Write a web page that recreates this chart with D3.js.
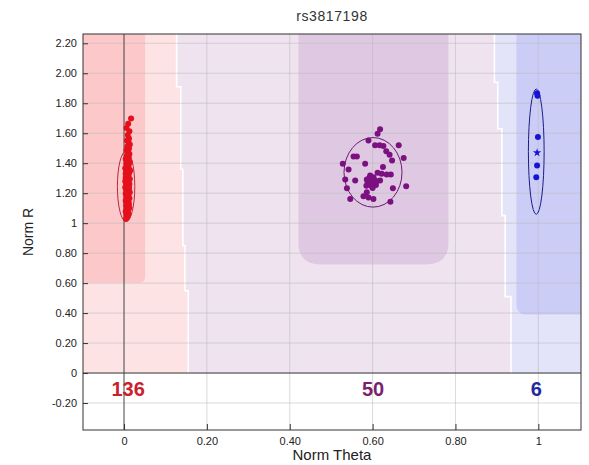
<!DOCTYPE html>
<html>
<head>
<meta charset="utf-8">
<title>rs3817198</title>
<script src="https://d3js.org/d3.v7.min.js"></script>
<style>
  body { margin: 0; background: #fff; }
  svg { display: block; font-family: "Liberation Sans", Arial, sans-serif; }
</style>
</head>
<body>
<script>
// samples as [Norm Theta, Norm R]
var redPts = [[0.017,1.698],[0.010,1.664],[0.006,1.635],[0.013,1.613],[0.009,1.588],[0.012,1.565],[0.007,1.552],[0.011,1.538],
  [0.014,1.524],[0.008,1.512],[0.012,1.498],[0.006,1.486],[0.010,1.474],[0.013,1.461],[0.007,1.450],[0.011,1.440],[0.004,1.428],
  [0.009,1.418],[0.014,1.407],[0.006,1.396],[0.011,1.386],[0.008,1.377],[0.003,1.366],[0.013,1.358],[0.009,1.348],[0.005,1.339],
  [0.012,1.330],[0.007,1.321],[0.010,1.312],[0.004,1.303],[0.014,1.295],[0.008,1.287],[0.011,1.278],[0.005,1.270],[0.013,1.262],
  [0.007,1.254],[0.009,1.246],[0.003,1.238],[0.012,1.230],[0.006,1.222],[0.010,1.214],[0.014,1.206],[0.004,1.198],[0.008,1.190],
  [0.011,1.182],[0.006,1.174],[0.013,1.166],[0.009,1.158],[0.004,1.150],[0.011,1.142],[0.007,1.134],[0.012,1.126],[0.005,1.118],
  [0.009,1.110],[0.013,1.102],[0.006,1.094],[0.010,1.086],[0.004,1.078],[0.008,1.070],[0.011,1.062],[0.006,1.054],[0.009,1.046],
  [0.007,1.038],[0.005,1.030],[0.008,1.300],[0.006,1.260],[0.012,1.240],[0.004,1.330],[0.010,1.190],[0.007,1.420],[0.015,1.350],
  [0.003,1.280]];
var purplePts = [[0.618,1.626],[0.612,1.597],[0.590,1.552],[0.606,1.519],[0.617,1.519],[0.626,1.515],[0.663,1.519],[0.633,1.479],
  [0.641,1.456],[0.675,1.434],[0.554,1.445],[0.562,1.445],[0.647,1.418],[0.528,1.396],[0.582,1.396],[0.625,1.374],[0.542,1.358],
  [0.612,1.336],[0.622,1.329],[0.634,1.324],[0.644,1.324],[0.594,1.318],[0.602,1.307],[0.586,1.291],[0.598,1.284],[0.606,1.268],
  [0.590,1.262],[0.598,1.246],[0.534,1.291],[0.558,1.284],[0.618,1.284],[0.681,1.246],[0.538,1.233],[0.649,1.233],[0.586,1.206],
  [0.578,1.179],[0.590,1.172],[0.602,1.161],[0.546,1.161],[0.643,1.143],[0.600,1.300],[0.596,1.270],[0.604,1.290],[0.592,1.300],
  [0.608,1.255],[0.588,1.275],[0.600,1.235],[0.595,1.310],[0.610,1.280],[0.585,1.250]];
var bluePts = [[0.997,1.866],[0.998,1.850],[0.999,1.575],[0.997,1.385],[0.995,1.307]];
var blueStar = [[0.997,1.470]];

// cluster summary
var counts = [136, 50, 6];
var centerTheta = [0.005, 0.601, 0.995];
var centerR = [1.245, 1.339, 1.477];
var spreadTheta = [0.021, 0.070, 0.019];
var spreadR = [0.235, 0.232, 0.418];

// call regions: core boxes (theta range, lower R) and split lines [R, theta]
var coreTheta0 = [-0.2, 0.421, 0.947];
var coreTheta1 = [0.051, 0.783, 1.3];
var coreBottomR = [0.604, 0.725, 0.39];
var splitAB = [[2.4,0.127],[1.91,0.127],[1.91,0.137],[1.36,0.137],[1.36,0.142],[0.85,0.142],[0.85,0.147],[0.55,0.147],[0.55,0.155],[0,0.155]];
var splitBB = [[2.4,0.894],[1.94,0.894],[1.94,0.902],[1.63,0.902],[1.63,0.912],[1.05,0.912],[1.05,0.920],[0.51,0.920],[0.51,0.934],[0,0.934]];

var xTicks = [0, 0.2, 0.4, 0.6, 0.8, 1];
var yTicks = [-0.2, 0, 0.2, 0.4, 0.6, 0.8, 1, 1.2, 1.4, 1.6, 1.8, 2.0, 2.2];

var W = 589, H = 465;
var L = 83, R = 581, T = 34, B = 430;

var x = d3.scaleLinear().domain([-0.099, 1.103]).range([L, R]);
var y = d3.scaleLinear().domain([-0.380, 2.262]).range([B, T]);

var lightCol = ["#fde3e4", "#eee3ef", "#e3e3f9"];
var coreCol = ["#fcc8ca", "#dfc9e2", "#cccdf6"];
var dotCol = ["#e5101c", "#7d1080", "#1414d8"];
var ringCol = ["#b8283a", "#6a1a72", "#1c1c86"];
var labCol = ["#cc1f2e", "#7a1f70", "#1f2a9c"];

var svg = d3.select("body").append("svg").attr("width", W).attr("height", H);

svg.append("text").attr("x", (L + R) / 2).attr("y", 21).attr("text-anchor", "middle")
  .style("font-size", "14px").style("letter-spacing", "0.6px").attr("fill", "#333").text("rs3817198");

svg.append("clipPath").attr("id", "plot").append("rect")
  .attr("x", L).attr("y", T).attr("width", R - L).attr("height", B - T);
var g = svg.append("g").attr("clip-path", "url(#plot)");

var pt = function(p) { return x(p[1]) + "," + y(p[0]); };
var rev = function(a) { return a.slice().reverse(); };

// light call zones above zero
var zones = [
  [[2.4, -0.2]].concat(splitAB).concat([[0, -0.2]]),
  splitAB.concat(rev(splitBB)),
  splitBB.concat([[0, 1.3], [2.4, 1.3]])
];
g.selectAll(".zone").data(zones).enter().append("polygon")
  .attr("points", function(d) { return d.map(pt).join(" "); })
  .attr("fill", function(d, i) { return lightCol[i]; });

// core boxes with rounded lower corners
var rad = [6, 22, 10];
g.selectAll(".core").data(counts).enter().append("path")
  .attr("d", function(d, i) {
    var x0 = x(coreTheta0[i]), x1 = x(coreTheta1[i]), yt = y(2.4), yb = y(coreBottomR[i]), r = rad[i];
    return "M" + x0 + "," + yt + "L" + x1 + "," + yt + "L" + x1 + "," + (yb - r) +
      "Q" + x1 + "," + yb + " " + (x1 - r) + "," + yb + "L" + (x0 + r) + "," + yb +
      "Q" + x0 + "," + yb + " " + x0 + "," + (yb - r) + "Z";
  })
  .attr("fill", function(d, i) { return coreCol[i]; });

// white split lines
g.selectAll(".split").data([splitAB, splitBB]).enter().append("polyline")
  .attr("points", function(d) { return d.map(pt).join(" "); })
  .attr("fill", "none").attr("stroke", "#fff").attr("stroke-width", 1.6);

// grid
g.selectAll(".gx").data(xTicks.slice(1)).enter().append("line")
  .attr("x1", function(d) { return x(d); }).attr("x2", function(d) { return x(d); })
  .attr("y1", T).attr("y2", B).attr("stroke", "#b8b8b8").attr("stroke-opacity", 0.5);
g.selectAll(".gy").data(yTicks.filter(function(d) { return d !== 0; })).enter().append("line")
  .attr("y1", function(d) { return y(d); }).attr("y2", function(d) { return y(d); })
  .attr("x1", L).attr("x2", R).attr("stroke", "#b8b8b8").attr("stroke-opacity", 0.5);

// zero lines
g.append("line").attr("x1", L).attr("x2", R).attr("y1", y(0)).attr("y2", y(0)).attr("stroke", "#333");
g.append("line").attr("x1", x(0)).attr("x2", x(0)).attr("y1", T).attr("y2", B).attr("stroke", "#444");

// cluster ellipses
g.selectAll(".ring").data(counts).enter().append("ellipse")
  .attr("cx", function(d, i) { return x(centerTheta[i]); })
  .attr("cy", function(d, i) { return y(centerR[i]); })
  .attr("rx", function(d, i) { return x(centerTheta[i] + spreadTheta[i]) - x(centerTheta[i]); })
  .attr("ry", function(d, i) { return y(centerR[i]) - y(centerR[i] + spreadR[i]); })
  .attr("fill", "none").attr("stroke", function(d, i) { return ringCol[i]; }).attr("stroke-width", 1);

// points
[redPts, purplePts, bluePts].forEach(function(set, i) {
  g.selectAll(".p" + i).data(set).enter().append("circle")
    .attr("cx", function(d) { return x(d[0]); }).attr("cy", function(d) { return y(d[1]); })
    .attr("r", 3).attr("fill", dotCol[i]);
});
g.selectAll(".star").data(blueStar).enter().append("path")
  .attr("transform", function(d) { return "translate(" + x(d[0]) + "," + y(d[1]) + ")"; })
  .attr("d", d3.symbol(d3.symbolStar, 22)).attr("fill", dotCol[2]);

// counts
g.selectAll(".cnt").data(counts).enter().append("text")
  .attr("x", function(d, i) { return x(centerTheta[i]) + (i === 0 ? 2 : 0); })
  .attr("y", y(0) + 23).attr("text-anchor", "middle")
  .style("font-size", "20px").style("font-weight", "bold")
  .attr("fill", function(d, i) { return labCol[i]; })
  .text(function(d) { return d; });

// frame
svg.append("rect").attr("x", L).attr("y", T).attr("width", R - L).attr("height", B - T)
  .attr("fill", "none").attr("stroke", "#333");

var fmt = function(d) {
  if (d === 0 || d === 1) return String(d);
  return (d < 0 ? "-" : "") + Math.abs(d).toFixed(2);
};

var ax = svg.append("g").attr("transform", "translate(0," + B + ")")
  .call(d3.axisBottom(x).tickValues(xTicks).tickFormat(fmt).tickSizeInner(-6).tickSizeOuter(0).tickPadding(7));
var ay = svg.append("g").attr("transform", "translate(" + L + ",0)")
  .call(d3.axisLeft(y).tickValues(yTicks).tickFormat(fmt).tickSizeInner(-5).tickSizeOuter(0).tickPadding(6));
[ax, ay].forEach(function(a) {
  a.select(".domain").remove();
  a.selectAll("line").attr("stroke", "#333");
  a.selectAll("text").attr("fill", "#222").style("font-size", "11px")
    .style("font-family", "'Liberation Sans', Arial, sans-serif");
});

svg.append("text").attr("x", (L + R) / 2).attr("y", 460).attr("text-anchor", "middle")
  .style("font-size", "15px").attr("fill", "#222").text("Norm Theta");
svg.append("text").attr("transform", "translate(33,232) rotate(-90)").attr("text-anchor", "middle")
  .style("font-size", "14px").attr("fill", "#222").text("Norm R");
</script>
</body>
</html>
